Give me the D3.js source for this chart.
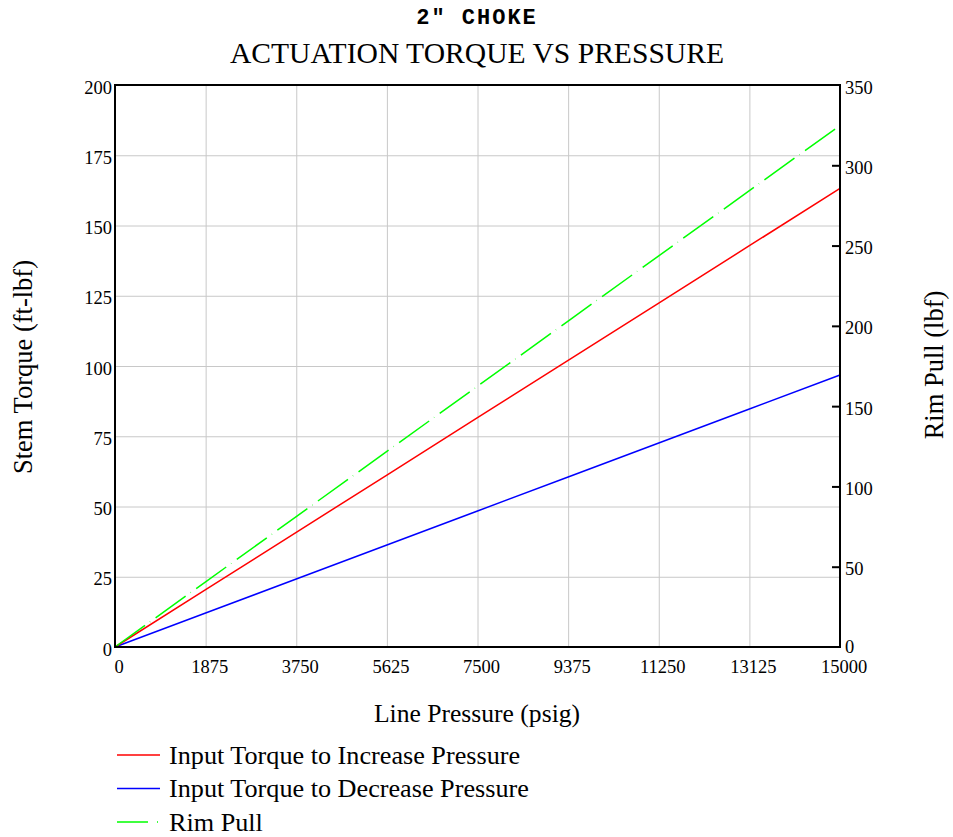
<!DOCTYPE html>
<head>
<style>
  body { margin: 0; background: #fff; }
  text { font-family: "Liberation Serif", "Times New Roman", serif; fill: #000; }
</style>
</head>
<body>
<div id="chart_container"></div>
<script src="https://cdn.jsdelivr.net/npm/d3@7"></script>
<script>

// values
const pressure = [0, 1875, 3750, 5625, 7500, 9375, 11250, 13125, 15000]
const torqueIncrease = [0, 20.4, 40.8, 61.2, 81.6, 102.0, 122.4, 142.8, 163.2]
const torqueDecrease = [0, 12.1, 24.2, 36.3, 48.4, 60.5, 72.6, 84.7, 96.8]
const rimPull = [0, 40.6, 81.2, 121.8, 162.4, 203.0, 243.6, 284.2, 324.8]

const xTicks = [0, 1875, 3750, 5625, 7500, 9375, 11250, 13125, 15000]
const yLeftTicks = [0, 25, 50, 75, 100, 125, 150, 175, 200]
const yRightTicks = [0, 50, 100, 150, 200, 250, 300, 350]

const seriesNames = ['Input Torque to Increase Pressure', 'Input Torque to Decrease Pressure', 'Rim Pull']

const width = 953
const height = 837
const plotLeft = 115, plotRight = 840, plotTop = 85, plotBottom = 647

const svg = d3.select('#chart_container')
              .append('svg')
              .attr('width', width)
              .attr('height', height)

const x = d3.scaleLinear().domain([0, 15000]).range([plotLeft, plotRight])
const yL = d3.scaleLinear().domain([0, 200]).range([plotBottom, plotTop])
const yR = d3.scaleLinear().domain([0, 350]).range([plotBottom, plotTop])

// grid
svg.append('g')
   .attr('transform', `translate(0, ${plotBottom})`)
   .call(d3.axisBottom(x).tickValues(xTicks).tickSize(-(plotBottom - plotTop)).tickFormat(''))
   .call(g => g.select('.domain').remove())
   .selectAll('line').attr('stroke', '#c8c8c8')

svg.append('g')
   .attr('transform', `translate(${plotLeft}, 0)`)
   .call(d3.axisLeft(yL).tickValues(yLeftTicks).tickSize(-(plotRight - plotLeft)).tickFormat(''))
   .call(g => g.select('.domain').remove())
   .selectAll('line').attr('stroke', '#c8c8c8')

// tick labels
svg.append('g').selectAll('text')
   .data(xTicks)
   .enter().append('text')
   .attr('x', d => x(d) + 4)
   .attr('y', plotBottom + 26)
   .attr('text-anchor', 'middle')
   .style('font-size', '18.5px')
   .text(d => d)

svg.append('g').selectAll('text')
   .data(yLeftTicks)
   .enter().append('text')
   .attr('x', plotLeft - 3)
   .attr('y', d => yL(d) + 8.5)
   .attr('text-anchor', 'end')
   .style('font-size', '18.5px')
   .text(d => d)

// right axis: inward tick marks
svg.append('g')
   .attr('transform', `translate(${plotRight}, 0)`)
   .call(d3.axisLeft(yR).tickValues(yRightTicks.filter(d => d > 0 && d < 350)).tickSize(8).tickFormat(''))
   .call(g => g.select('.domain').remove())
   .selectAll('line').attr('stroke', '#000').attr('stroke-width', 2)

svg.append('g').selectAll('text')
   .data(yRightTicks)
   .enter().append('text')
   .attr('x', plotRight + 5)
   .attr('y', d => d === 0 ? yR(d) + 6 : yR(d) + 8.5)
   .attr('text-anchor', 'start')
   .style('font-size', '18.5px')
   .text(d => d)

// series
const lineL = d3.line().x((d, i) => x(pressure[i])).y(d => yL(d))
const lineR = d3.line().x((d, i) => x(pressure[i])).y(d => yR(d))

svg.append('path').datum(torqueDecrease)
   .attr('d', lineL).attr('fill', 'none').attr('stroke', '#0000ff').attr('stroke-width', 1.5)
svg.append('path').datum(torqueIncrease)
   .attr('d', lineL).attr('fill', 'none').attr('stroke', '#ff0000').attr('stroke-width', 1.5)
svg.append('path').datum(rimPull)
   .attr('d', lineR).attr('fill', 'none').attr('stroke', '#00ff00').attr('stroke-width', 1.5)
   .attr('stroke-dasharray', '37,6,0.4,6.6')

// frame
svg.append('rect')
   .attr('x', plotLeft).attr('y', plotTop)
   .attr('width', plotRight - plotLeft).attr('height', plotBottom - plotTop)
   .attr('fill', 'none').attr('stroke', '#000').attr('stroke-width', 2)

// titles
svg.append('text')
   .attr('x', 477).attr('y', 24)
   .attr('text-anchor', 'middle')
   .style('font-family', '"Liberation Mono", "Courier New", monospace')
   .style('font-weight', 'bold')
   .style('font-size', '22px')
   .style('letter-spacing', '2px')
   .text('2" CHOKE')

svg.append('text')
   .attr('x', 477).attr('y', 63)
   .attr('text-anchor', 'middle')
   .style('font-size', '29.6px')
   .text('ACTUATION TORQUE VS PRESSURE')

svg.append('text')
   .attr('x', 477).attr('y', 722)
   .attr('text-anchor', 'middle')
   .style('font-size', '25.6px')
   .text('Line Pressure (psig)')

svg.append('text')
   .attr('transform', 'translate(32, 367) rotate(-90)')
   .attr('text-anchor', 'middle')
   .style('font-size', '26.5px')
   .text('Stem Torque (ft-lbf)')

svg.append('text')
   .attr('transform', 'translate(943, 365) rotate(-90)')
   .attr('text-anchor', 'middle')
   .style('font-size', '26.5px')
   .text('Rim Pull (lbf)')

// legend
const legendColors = ['#ff0000', '#0000ff', '#00ff00']
const legendDash = [null, null, '31,9,1,100']
const legend = svg.append('g')
seriesNames.forEach((name, i) => {
  const ly = 755 + i * 33.5
  legend.append('line')
        .attr('x1', 117).attr('x2', 160)
        .attr('y1', ly).attr('y2', ly)
        .attr('stroke', legendColors[i]).attr('stroke-width', 1.5)
        .attr('stroke-dasharray', legendDash[i])
  legend.append('text')
        .attr('x', 169).attr('y', ly + 8.5)
        .style('font-size', '26.2px')
        .text(name)
})

</script>
</body>
